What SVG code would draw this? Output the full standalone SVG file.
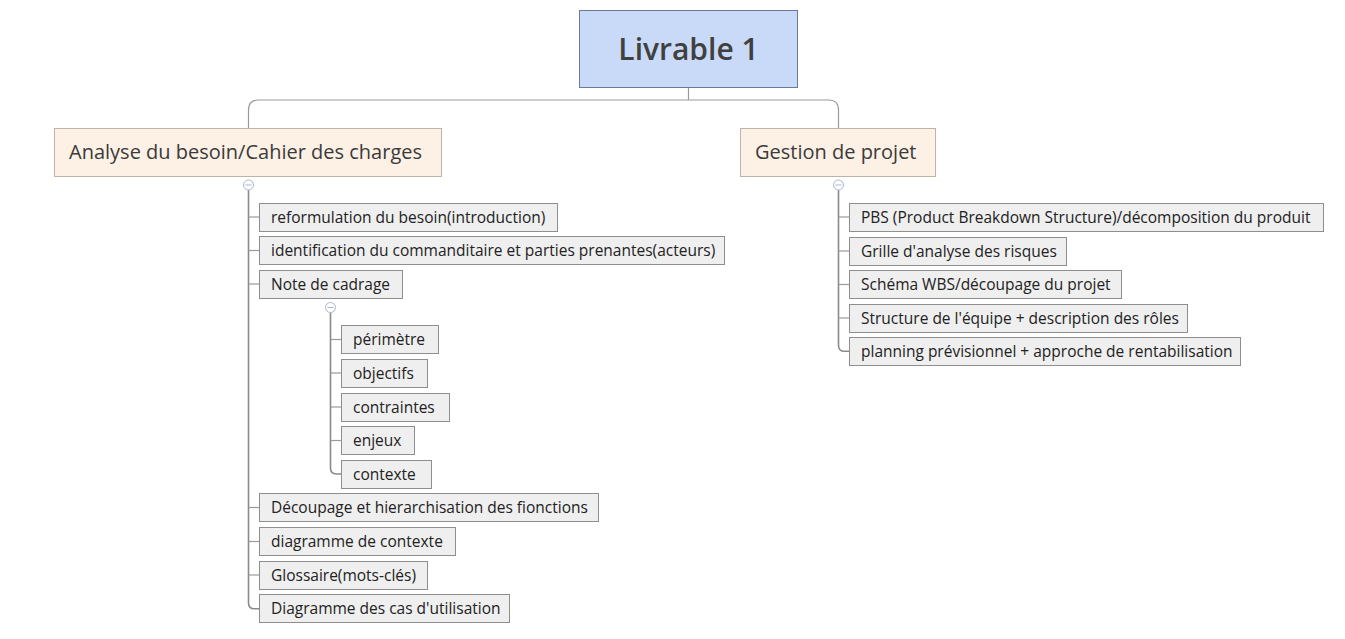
<svg xmlns="http://www.w3.org/2000/svg" width="1345" height="639" viewBox="0 0 1345 639">
<style>
  text { font-family: "Open Sans", "Noto Sans", "DejaVu Sans", sans-serif; fill: #333; }
  .root rect { fill: #c9daf8; stroke: #6b7a99; stroke-width: 1; }
  .root text { font-size: 30px; font-weight: 600; fill: #404040; }
  .main rect { fill: #fdf1e6; stroke: #c0b2a4; stroke-width: 1; }
  .main text { font-size: 20px; fill: #3a3a3a; }
  .leaf rect { fill: #efefef; stroke: #8e8e8e; stroke-width: 1; }
  .leaf text { font-size: 15.5px; fill: #222; }
  .conn path { fill: none; stroke: #9a9a9a; stroke-width: 1.2; }
  .conn .trunk { stroke: #8a8a8a; stroke-width: 1.6; }
  .tog circle { fill: #fff; stroke: #a9b6cf; stroke-width: 1; }
  .tog line { stroke: #a9b6cf; stroke-width: 1; }
</style>

<g id="connectors" class="conn">
  <path d="M688.5,87 V100"/>
  <path d="M248.5,128 V110 Q248.5,100 258.5,100 H828.5 Q838.5,100 838.5,110 V128"/>
  <path class="trunk" d="M248.5,190 V602.8 Q248.5,608.8 254.5,608.8 H259"/>
  <path d="M248.5,217 H259"/>
  <path d="M248.5,250.5 H259"/>
  <path d="M248.5,284 H259"/>
  <path d="M248.5,507.5 H259"/>
  <path d="M248.5,541.5 H259"/>
  <path d="M248.5,575 H259"/>
  <path class="trunk" d="M330.5,312.5 V468 Q330.5,474 336.5,474 H341"/>
  <path d="M330.5,339.5 H341"/>
  <path d="M330.5,373 H341"/>
  <path d="M330.5,407 H341"/>
  <path d="M330.5,440.5 H341"/>
  <path class="trunk" d="M838.5,190 V345.3 Q838.5,351.3 844.5,351.3 H849"/>
  <path d="M838.5,217 H849"/>
  <path d="M838.5,251 H849"/>
  <path d="M838.5,284.5 H849"/>
  <path d="M838.5,318 H849"/>
</g>

<g id="toggles" class="tog">
  <g><circle cx="248.5" cy="185" r="5"/><line x1="245.5" y1="185" x2="251.5" y2="185"/></g>
  <g><circle cx="330.5" cy="307.5" r="5"/><line x1="327.5" y1="307.5" x2="333.5" y2="307.5"/></g>
  <g><circle cx="838.5" cy="185" r="5"/><line x1="835.5" y1="185" x2="841.5" y2="185"/></g>
</g>

<g id="root" class="root">
  <rect x="579.5" y="10.5" width="218" height="77"/>
  <text x="688.5" y="60" text-anchor="middle">Livrable 1</text>
</g>

<g id="analyse" class="main">
  <rect x="54.5" y="128.5" width="387" height="48"/>
  <text x="69" y="159">Analyse du besoin/Cahier des charges</text>
</g>
<g id="gestion" class="main">
  <rect x="740.5" y="128.5" width="195" height="48"/>
  <text x="755" y="159">Gestion de projet</text>
</g>

<g id="reformulation" class="leaf">
  <rect x="259.5" y="203.5" width="298" height="28"/>
  <text x="271" y="222.5">reformulation du besoin(introduction)</text>
</g>
<g id="identification" class="leaf">
  <rect x="259.5" y="236.5" width="465" height="28"/>
  <text x="271" y="256">identification du commanditaire et parties prenantes(acteurs)</text>
</g>
<g id="note" class="leaf">
  <rect x="259.5" y="270.5" width="143" height="28"/>
  <text x="271" y="289.5">Note de cadrage</text>
</g>
<g id="perimetre" class="leaf">
  <rect x="341.5" y="325.5" width="97" height="28"/>
  <text x="353" y="345">périmètre</text>
</g>
<g id="objectifs" class="leaf">
  <rect x="341.5" y="359.5" width="86" height="28"/>
  <text x="353" y="378.5">objectifs</text>
</g>
<g id="contraintes" class="leaf">
  <rect x="341.5" y="393.5" width="108" height="28"/>
  <text x="353" y="412.5">contraintes</text>
</g>
<g id="enjeux" class="leaf">
  <rect x="341.5" y="426.5" width="73" height="28"/>
  <text x="353" y="446">enjeux</text>
</g>
<g id="contexte" class="leaf">
  <rect x="341.5" y="460.5" width="90" height="28"/>
  <text x="353" y="479.5">contexte</text>
</g>
<g id="decoupage" class="leaf">
  <rect x="259.5" y="493.5" width="339" height="28"/>
  <text x="271" y="513">Découpage et hierarchisation des fionctions</text>
</g>
<g id="diagramme-contexte" class="leaf">
  <rect x="259.5" y="527.5" width="196" height="28"/>
  <text x="271" y="547">diagramme de contexte</text>
</g>
<g id="glossaire" class="leaf">
  <rect x="259.5" y="561.5" width="168" height="28"/>
  <text x="271" y="580.5">Glossaire(mots-clés)</text>
</g>
<g id="cas-utilisation" class="leaf">
  <rect x="259.5" y="594.5" width="250" height="28"/>
  <text x="271" y="614">Diagramme des cas d'utilisation</text>
</g>

<g id="pbs" class="leaf">
  <rect x="849.5" y="203.5" width="474" height="28"/>
  <text x="861" y="222.5">PBS (Product Breakdown Structure)/décomposition du produit</text>
</g>
<g id="grille" class="leaf">
  <rect x="849.5" y="237.5" width="217" height="28"/>
  <text x="861" y="256.5">Grille d'analyse des risques</text>
</g>
<g id="wbs" class="leaf">
  <rect x="849.5" y="270.5" width="272" height="28"/>
  <text x="861" y="290">Schéma WBS/découpage du projet</text>
</g>
<g id="equipe" class="leaf">
  <rect x="849.5" y="304.5" width="338" height="28"/>
  <text x="861" y="323.5">Structure de l'équipe + description des rôles</text>
</g>
<g id="planning" class="leaf">
  <rect x="849.5" y="337.5" width="391" height="28"/>
  <text x="861" y="357">planning prévisionnel + approche de rentabilisation</text>
</g>
</svg>
